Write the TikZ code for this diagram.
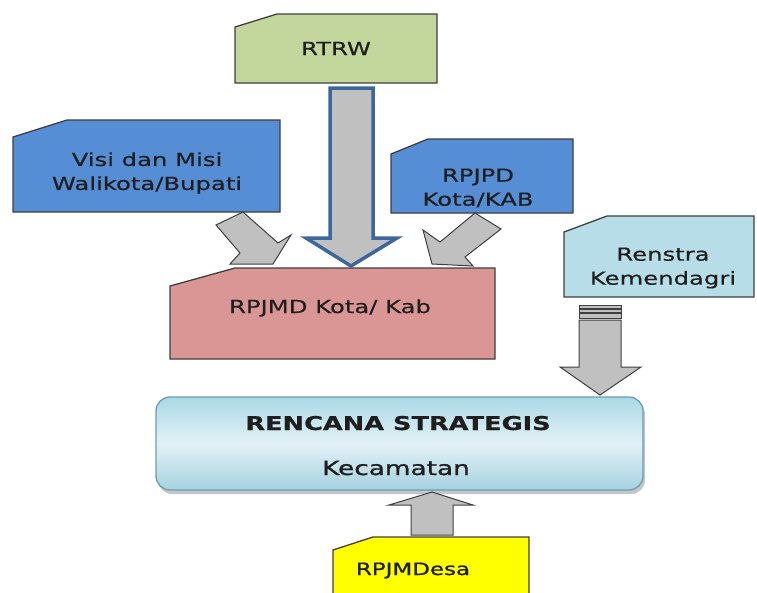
\documentclass[tikz,border=0pt]{standalone}
\usepackage{fontspec}
\usetikzlibrary{shadows}
\newfontfamily\df[FakeStretch=1.35,FakeBold=0.5]{DejaVu Sans}
\newfontfamily\dfm[FakeStretch=1.35,FakeBold=1.2]{DejaVu Sans}
\definecolor{cgreen}{HTML}{C3D69B}
\definecolor{cblue}{HTML}{558ED5}
\definecolor{crose}{HTML}{D99694}
\definecolor{clight}{HTML}{B7DEE8}
\definecolor{cgray}{HTML}{C0C0C0}
\definecolor{cedge}{HTML}{3F3F3F}
\definecolor{cnavy}{HTML}{3B679B}
\definecolor{ctext}{HTML}{1E1E1E}
\definecolor{crstop}{HTML}{AAD8E6}
\definecolor{crsmid}{HTML}{E2F1F6}
\definecolor{crsbot}{HTML}{A6D2E0}
\definecolor{crsedge}{HTML}{6A9DB5}
\definecolor{cyel}{HTML}{FFFF00}
\tikzset{
  box/.style={draw=cedge, line width=1.3pt, line join=miter},
  garrow/.style={fill=cgray, draw=cedge, line width=1pt, line join=miter},
  lbl/.style={font=\df\fontsize{18}{24}\selectfont, text=ctext, inner sep=0pt, align=center},
}
\begin{document}
\begin{tikzpicture}[x=1pt,y=-1pt]
\useasboundingbox[fill=white] (0,0) rectangle (757,592);

% RTRW
\draw[box, fill=cgreen] (235,27)--(277,14)--(437,14)--(437,83)--(235,83)--cycle;
\node[lbl, anchor=base] (rtrw) at (336,55) {RTRW};

% Visi dan Misi
\draw[box, fill=cblue] (13,137)--(67,120)--(280,120)--(280,212)--(13,212)--cycle;
\node[lbl] (visi) at (147,173) {Visi dan Misi\\Walikota/Bupati};

% RPJPD
\draw[box, fill=cblue] (391,154)--(428,139)--(573,139)--(573,213)--(391,213)--cycle;
\node[lbl] (rpjpd) at (478,188) {RPJPD\\Kota/KAB};

% Renstra
\draw[box, fill=clight] (564,232)--(607,216)--(754,216)--(754,297)--(564,297)--cycle;
\node[lbl] (renstra) at (663,268) {Renstra\\Kemendagri};

% RPJMD
\draw[box, fill=crose] (170,286)--(235,268)--(495,268)--(495,359)--(170,359)--cycle;
\node[lbl, anchor=base] (rpjmd) at (330,313) {RPJMD Kota/ Kab};

% Rencana strategis
\node[draw=crsedge, line width=1.3pt, rounded corners=14pt,
      minimum width=487pt, minimum height=93pt,
      top color=crstop, bottom color=crsbot, middle color=crsmid,
      drop shadow={opacity=0.45, shadow xshift=2pt, shadow yshift=-4pt}] (rencana) at (399.5,443.5) {};
\node[font=\df\bfseries\fontsize{19}{24}\selectfont, text=ctext, inner sep=0pt, anchor=base] (rs) at (398,430) {RENCANA STRATEGIS};
\node[font=\dfm\fontsize{19.5}{24}\selectfont, text=ctext, inner sep=0pt, anchor=base] (kec) at (396,475) {Kecamatan};

% RPJMDesa
\draw[box, fill=cyel] (333,550)--(373,537)--(529,537)--(529,596)--(333,596)--cycle;
\node[font=\dfm\fontsize{17}{20}\selectfont, text=ctext, inner sep=0pt, anchor=base] (desa) at (413,575) {RPJMDesa};

% arrows
\draw[garrow] (243,212)--(278,243)--(291,235)--(273,264)--(230,264)--(240,253)--(216,225)--cycle;
\draw[garrow] (475,213)--(501,229)--(465,257)--(473,266)--(432,264)--(423,230)--(440,242)--cycle;
\draw[fill=cgray, draw=cnavy, line width=3.5pt, line join=miter]
  (330,88)--(373,88)--(373,238)--(397,238)--(351,266)--(306,238)--(330,238)--cycle;
\draw[garrow, line width=0.7pt] (579,305) rectangle (621,308);
\draw[garrow, line width=0.7pt] (579,309.5) rectangle (621,312);
\draw[garrow, line width=0.7pt] (579,313.5) rectangle (621,318);
\draw[garrow] (579,320)--(621,320)--(621,367)--(641,367)--(600,395)--(560,367)--(579,367)--cycle;
\draw[garrow] (411,535)--(411,505)--(389,505)--(432,492)--(473,505)--(453,505)--(453,535)--cycle;
\end{tikzpicture}
\end{document}
